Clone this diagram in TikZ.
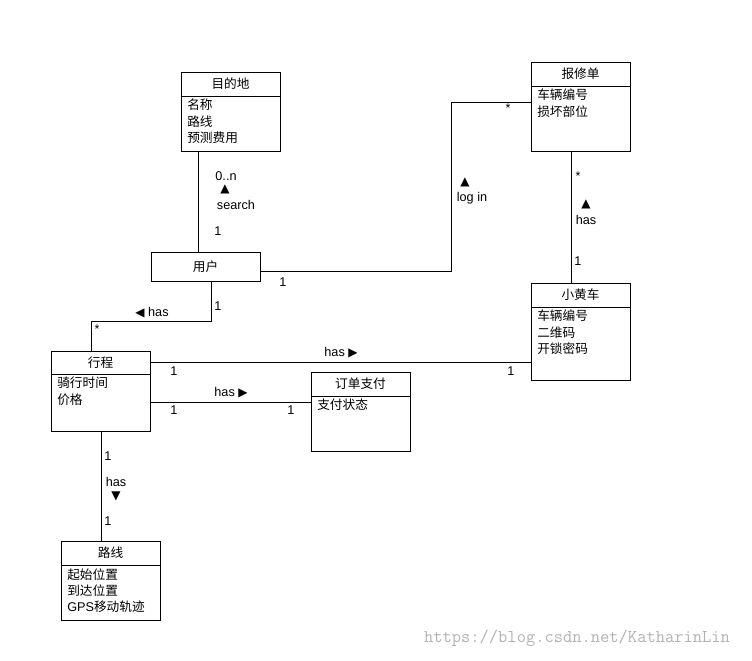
\documentclass[tikz,border=0pt]{standalone}
\usepackage{fontspec}
\setmainfont{Liberation Sans}
\newfontfamily\cjk{Noto Sans CJK SC}
\newfontfamily\sym{DejaVu Sans}
\begin{document}
\begin{tikzpicture}[x=0.75pt,y=-0.75pt,
  box/.style={draw,line width=0.6pt,anchor=north west,inner sep=0},
  ttl/.style={font=\cjk\fontsize{9.5}{11}\selectfont,anchor=center},
  att/.style={font=\cjk\fontsize{9.5}{12.2}\selectfont,anchor=north west,align=left,inner sep=0},
  lbl/.style={font=\fontsize{9.5}{11}\selectfont,inner sep=0},
  ln/.style={line width=0.6pt}]
\useasboundingbox (0,0) rectangle (752,660);
% boxes
\newcommand{\umlbox}[8]{% name x y w h hy title attrs
  \node[box,minimum width=#4*0.75pt,minimum height=#5*0.75pt] (#1) at (#2,#3) {};
  \draw[ln] (#2,#3+#6) -- (#2+#4,#3+#6);
  \node[ttl] at (#2+#4/2,#3+#6/2) {#7};
  \node[att] at (#2+6,#3+#6+3) {#8};}
\umlbox{dest}{181}{72}{99}{79}{24}{目的地}{名称\\路线\\预测费用}
\umlbox{rep}{531}{62}{99}{89}{24}{报修单}{车辆编号\\损坏部位}
\node[box,minimum width=109*0.75pt,minimum height=29*0.75pt] (user) at (151,252) {};
\node[ttl] at (205.5,266.5) {用户};
\umlbox{bike}{531}{283}{99}{97}{24}{小黄车}{车辆编号\\二维码\\开锁密码}
\umlbox{trip}{51}{351}{99}{80}{23}{行程}{骑行时间\\价格}
\umlbox{pay}{311}{372}{99}{79}{24}{订单支付}{支付状态}
\umlbox{route}{61}{541}{99}{79}{24}{路线}{起始位置\\到达位置\\{\fontspec{Liberation Sans}GPS}移动轨迹}
% connectors
\draw[ln] (dest.south -| 198,0) -- (user.north -| 198,0);
\draw[ln] (user.east |- 0,271) -- (451,271) -- (451,102) -- (rep.west |- 0,102);
\draw[ln] (rep.south -| 571,0) -- (bike.north -| 571,0);
\draw[ln] (user.south -| 211,0) -- (211,321) -- (91,321) -- (trip.north -| 91,0);
\draw[ln] (trip.east |- 0,362) -- (bike.west |- 0,362);
\draw[ln] (trip.east |- 0,402) -- (pay.west |- 0,402);
\draw[ln] (trip.south -| 101,0) -- (route.north -| 101,0);
% labels
\node[lbl] at (226,176) {0..n};
\node[lbl,font=\sym\fontsize{9}{10}\selectfont] at (225,189) {▲};
\node[lbl] at (236,205) {search};
\node[lbl] at (218,231) {1};
\node[lbl] at (283,282) {1};
\node[lbl,font=\sym\fontsize{9}{10}\selectfont] at (465,182) {▲};
\node[lbl] at (472,198) {log in};
\node[lbl] at (508,108) {*};
\node[lbl] at (578,176) {*};
\node[lbl,font=\sym\fontsize{9}{10}\selectfont] at (586,204) {▲};
\node[lbl] at (586,220) {has};
\node[lbl] at (578,261) {1};
\node[lbl] at (218,306) {1};
\node[lbl] at (152,313) {{\sym\fontsize{9}{10}\selectfont ◀} has};
\node[lbl] at (97,329) {*};
\node[lbl] at (341,353) {has {\sym\fontsize{9}{10}\selectfont ▶}};
\node[lbl] at (174,371) {1};
\node[lbl] at (511,371) {1};
\node[lbl] at (231,393) {has {\sym\fontsize{9}{10}\selectfont ▶}};
\node[lbl] at (174,410) {1};
\node[lbl] at (291,410) {1};
\node[lbl] at (108,456) {1};
\node[lbl] at (116,482) {has};
\node[lbl,font=\sym\fontsize{9}{10}\selectfont] at (116,496) {▼};
\node[lbl] at (108,521) {1};
\node[lbl,text=gray!60,font=\ttfamily\fontsize{13.5}{15}\selectfont] at (577,638) {https://blog.csdn.net/KatharinLin};
\end{tikzpicture}
\end{document}
